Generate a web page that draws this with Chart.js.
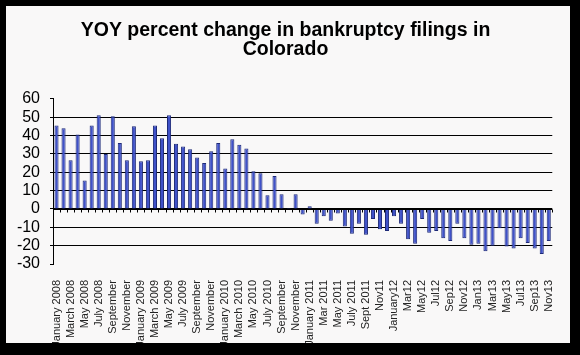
<!DOCTYPE html>
<html>
<head>
<meta charset="utf-8">
<script src="https://cdn.jsdelivr.net/npm/chart.js@4/dist/chart.umd.min.js"></script>
<style>
  html, body { margin: 0; padding: 0; background: #000; width: 580px; height: 355px; overflow: hidden; }
  #frame { position: absolute; left: 6px; top: 6px; width: 564px; height: 337px; background: #f9f8f8; }
  canvas { display: block; }
</style>
</head>
<body>
<div id="frame"><canvas id="c" width="564" height="337"></canvas></div>
<script>
// Months Jan 2008 .. Nov 2013 (71 categories)
const categories = [
  "2008-01","2008-02","2008-03","2008-04","2008-05","2008-06","2008-07","2008-08","2008-09","2008-10","2008-11","2008-12",
  "2009-01","2009-02","2009-03","2009-04","2009-05","2009-06","2009-07","2009-08","2009-09","2009-10","2009-11","2009-12",
  "2010-01","2010-02","2010-03","2010-04","2010-05","2010-06","2010-07","2010-08","2010-09","2010-10","2010-11","2010-12",
  "2011-01","2011-02","2011-03","2011-04","2011-05","2011-06","2011-07","2011-08","2011-09","2011-10","2011-11","2011-12",
  "2012-01","2012-02","2012-03","2012-04","2012-05","2012-06","2012-07","2012-08","2012-09","2012-10","2012-11","2012-12",
  "2013-01","2013-02","2013-03","2013-04","2013-05","2013-06","2013-07","2013-08","2013-09","2013-10","2013-11"
];

// Labels shown on every other month, as written in the original
const tickLabels = [
  "January 2008","March 2008","May 2008","July 2008","September","November",
  "January 2009","March 2009","May 2009","July 2009","September","November",
  "January 2010","March 2010","May 2010","July 2010","September","November",
  "January 2011","Mar 2011","May 2011","July 2011","Sept 2011","Nov11",
  "January12","Mar12","May12","Jul12","Sep12","Nov12",
  "Jan13","Mar13","May13","Jul13","Sep13","Nov13"
];

// YOY percent change
const values2008 = [45.5, 44, 26.5, 40.5, 15.5, 45.5, 51, 30, 50.5, 36, 26.5, 45];
const values2009 = [26, 26.5, 45.5, 38.5, 51, 35.5, 34, 32.5, 28, 25, 31.5, 36];
const values2010 = [22, 38, 35, 33, 20.5, 19.5, 7.5, 18, 8, 0.5, 8, -3];
const values2011 = [1.5, -8, -4, -6.5, -2.5, -9.5, -13.5, -8, -14, -5.5, -11, -12];
const values2012 = [-4, -8, -16.5, -19, -5.5, -13, -12, -16, -17.5, -8, -16, -19.5];
const values2013 = [-19, -23, -20, -10.5, -20.5, -21.5, -16, -18.5, -21.5, -24.5, -17.5];

const yTicks = [60, 50, 40, 30, 20, 10, 0, -10, -20, -30];

const values = [].concat(values2008, values2009, values2010, values2011, values2012, values2013);

const FONT = "'Liberation Sans', Arial, sans-serif";

// Zero line with small tick marks at the category boundaries
const zeroLine = {
  id: 'zeroLine',
  afterDatasetsDraw(chart) {
    const xs = chart.scales.x, ys = chart.scales.y;
    const ctx = chart.ctx;
    const step = xs.getPixelForValue(1) - xs.getPixelForValue(0);
    const start = xs.getPixelForValue(0) - step / 2;
    const y0 = Math.round(ys.getPixelForValue(0)) + 0.5;
    ctx.save();
    ctx.strokeStyle = '#000';
    ctx.lineWidth = 1;
    ctx.beginPath();
    for (let k = 0; k <= categories.length; k++) {
      const x = Math.round(start + k * step) + 0.5;
      ctx.moveTo(x, y0);
      ctx.lineTo(x, y0 + 3);
    }
    ctx.moveTo(xs.left, y0);
    ctx.lineTo(xs.right, y0);
    ctx.stroke();
    ctx.restore();
  }
};

new Chart(document.getElementById('c'), {
  type: 'bar',
  data: {
    labels: categories,
    datasets: [{
      data: values,
      backgroundColor: '#3f51c8',
      borderColor: '#1e2a78',
      borderWidth: 1,
      barPercentage: 0.58,
      categoryPercentage: 1.0
    }]
  },
  options: {
    responsive: false,
    animation: false,
    devicePixelRatio: 1,
    layout: { padding: { left: 0, right: 5, top: 0, bottom: 0 } },
    plugins: {
      legend: { display: false },
      tooltip: { enabled: false },
      title: {
        display: true,
        text: ["YOY percent change in bankruptcy filings in", "Colorado"],
        color: '#000',
        font: { family: FONT, size: 19.5, weight: 'bold', lineHeight: 0.97 },
        padding: { top: 15, bottom: 40 }
      }
    },
    scales: {
      x: {
        grid: { display: false },
        border: { display: false },
        ticks: {
          autoSkip: false,
          maxRotation: 90,
          minRotation: 90,
          padding: 8,
          color: '#222',
          font: { family: FONT, size: 11 },
          callback: (v, i) => (i % 2 === 0 ? tickLabels[i / 2] : '')
        },
        afterFit: (s) => { s.height = 79; }
      },
      y: {
        min: Math.min(...yTicks),
        max: Math.max(...yTicks),
        afterBuildTicks: (s) => { s.ticks = yTicks.map(v => ({ value: v })); },
        grid: {
          color: (c) => (c.tick && (c.tick.value === 60 || c.tick.value === -30)) ? 'rgba(0,0,0,0)' : '#000',
          tickColor: '#000',
          tickLength: 3,
          lineWidth: 1
        },
        border: { display: true, color: '#000', width: 1 },
        ticks: {
          autoSkip: false,
          padding: 10,
          color: '#000',
          font: { family: FONT, size: 16 }
        },
        afterFit: (s) => { s.width = 47; }
      }
    }
  },
  plugins: [zeroLine]
});
</script>
</body>
</html>
